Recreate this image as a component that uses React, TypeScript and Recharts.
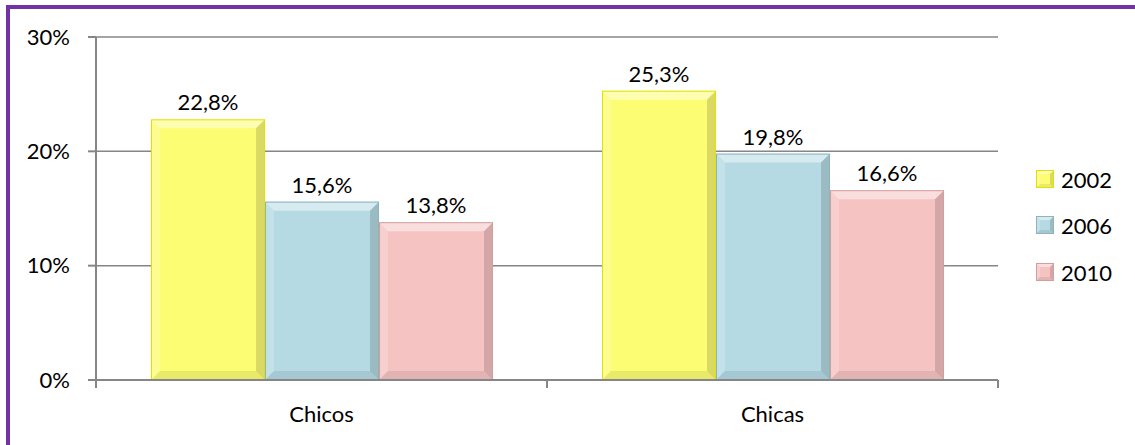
import React from "react";
import {
  BarChart,
  Bar,
  XAxis,
  YAxis,
  CartesianGrid,
  Legend,
  LabelList,
} from "recharts";

const categories = ["Chicos", "Chicas"];
const years = ["2002", "2006", "2010"];
const values2002 = [22.8, 25.3];
const values2006 = [15.6, 19.8];
const values2010 = [13.8, 16.6];
const yTicks = [0, 10, 20, 30];

const W = 1135;
const H = 445;
const TOP = 37;
const AXIS_Y = 380;
const PLOT_LEFT = 96;
const PLOT_RIGHT = 998;
const BAND = (PLOT_RIGHT - PLOT_LEFT) / categories.length;
const FONT = "Lato, 'Open Sans', sans-serif";
const GRAY = "#868686";

const palette: Record<string, { face: string; edge: string }> = {
  "2002": { face: "#FDFD74", edge: "#E2E200" },
  "2006": { face: "#B5DAE4", edge: "#8FB3BD" },
  "2010": { face: "#F6C3C3", edge: "#D29E9E" },
};

const data = categories.map((name, i) => ({
  name,
  "2002": values2002[i],
  "2006": values2006[i],
  "2010": values2010[i],
}));

const fmt = (v: number) => v.toFixed(1).replace(".", ",") + "%";

function Bevel({
  x,
  y,
  width,
  height,
  face,
  edge,
  b = 9,
}: {
  x: number;
  y: number;
  width: number;
  height: number;
  face: string;
  edge: string;
  b?: number;
}) {
  const bb = Math.min(b, width / 2, height / 2);
  const x2 = x + width;
  const y2 = y + height;
  return (
    <g>
      <rect x={x} y={y} width={width} height={height} fill={face} />
      {/* top */}
      <polygon
        points={`${x},${y} ${x2},${y} ${x2 - bb},${y + bb} ${x + bb},${y + bb}`}
        fill="#ffffff"
        fillOpacity={0.45}
      />
      {/* left */}
      <polygon
        points={`${x},${y} ${x + bb},${y + bb} ${x + bb},${y2 - bb} ${x},${y2}`}
        fill="#ffffff"
        fillOpacity={0.2}
      />
      {/* right */}
      <polygon
        points={`${x2},${y} ${x2},${y2} ${x2 - bb},${y2 - bb} ${x2 - bb},${y + bb}`}
        fill="#000000"
        fillOpacity={0.14}
      />
      {/* bottom */}
      <polygon
        points={`${x},${y2} ${x2},${y2} ${x2 - bb},${y2 - bb} ${x + bb},${y2 - bb}`}
        fill="#000000"
        fillOpacity={0.08}
      />
      <rect
        x={x + 0.5}
        y={y + 0.5}
        width={Math.max(width - 1, 0)}
        height={Math.max(height - 1, 0)}
        fill="none"
        stroke={edge}
        strokeWidth={1}
      />
    </g>
  );
}

function makeShape(year: string) {
  return (props: any) => {
    const { x, y, width, height } = props;
    if (!height || height <= 0) return <g />;
    return (
      <Bevel
        x={x}
        y={y}
        width={width}
        height={height}
        face={palette[year].face}
        edge={palette[year].edge}
      />
    );
  };
}

function CategoryTick(props: any) {
  const { x, payload, index } = props;
  const left = x - BAND / 2;
  return (
    <g>
      <line x1={left} y1={AXIS_Y} x2={left} y2={AXIS_Y + 8} stroke={GRAY} strokeWidth={2} />
      {index === categories.length - 1 && (
        <line
          x1={left + BAND}
          y1={AXIS_Y}
          x2={left + BAND}
          y2={AXIS_Y + 8}
          stroke={GRAY}
          strokeWidth={2}
        />
      )}
      <text
        x={x}
        y={AXIS_Y + 42}
        textAnchor="middle"
        fill="#000"
        fontSize={22}
        fontFamily={FONT}
      >
        {payload.value}
      </text>
    </g>
  );
}

function LegendContent() {
  return (
    <div style={{ fontFamily: FONT, fontSize: 22, color: "#000" }}>
      {years.map((yr) => (
        <div
          key={yr}
          style={{ display: "flex", alignItems: "center", height: 46.5 }}
        >
          <svg width={19} height={19} style={{ marginRight: 6 }}>
            <Bevel
              x={0}
              y={0}
              width={18}
              height={18}
              face={palette[yr].face}
              edge={palette[yr].edge}
              b={4}
            />
          </svg>
          <span>{yr}</span>
        </div>
      ))}
    </div>
  );
}

export default function App() {
  return (
    <div
      style={{
        position: "absolute",
        left: 0,
        top: 0,
        width: W,
        height: H,
        background: "#fff",
        overflow: "hidden",
      }}
    >
      <div
        style={{
          position: "absolute",
          left: 6,
          top: 5,
          width: W,
          height: H,
          borderTop: "4px solid #7333A4",
          borderLeft: "4px solid #7333A4",
          boxSizing: "border-box",
        }}
      />
      <BarChart
        width={W}
        height={H}
        data={data}
        margin={{ top: TOP, right: W - PLOT_RIGHT, bottom: 0, left: 0 }}
        barCategoryGap="12.2%"
        barGap={0}
        style={{ position: "absolute", left: 0, top: 0 }}
      >
        <CartesianGrid vertical={false} stroke={GRAY} strokeWidth={1.5} />
        <XAxis
          dataKey="name"
          height={H - AXIS_Y}
          axisLine={{ stroke: GRAY, strokeWidth: 2 }}
          tickLine={false}
          tick={<CategoryTick />}
          interval={0}
        />
        <YAxis
          width={PLOT_LEFT}
          domain={[0, 30]}
          ticks={yTicks}
          tickFormatter={(v: number) => `${v}%`}
          axisLine={{ stroke: GRAY, strokeWidth: 2 }}
          tickLine={{ stroke: GRAY, strokeWidth: 2 }}
          tickSize={8}
          tickMargin={18}
          tick={{ fill: "#000", fontSize: 22, fontFamily: FONT }}
        />
        <Legend
          layout="vertical"
          align="center"
          verticalAlign="middle"
          content={<LegendContent />}
          wrapperStyle={{ left: 1036, top: 156, width: 95 }}
        />
        {years.map((yr) => (
          <Bar
            key={yr}
            dataKey={yr}
            fill={palette[yr].face}
            shape={makeShape(yr)}
            isAnimationActive={false}
          >
            <LabelList
              dataKey={yr}
              position="top"
              offset={9}
              formatter={(v: any) => fmt(Number(v))}
              fill="#000"
              fontSize={22}
              fontFamily={FONT}
            />
          </Bar>
        ))}
      </BarChart>
    </div>
  );
}
